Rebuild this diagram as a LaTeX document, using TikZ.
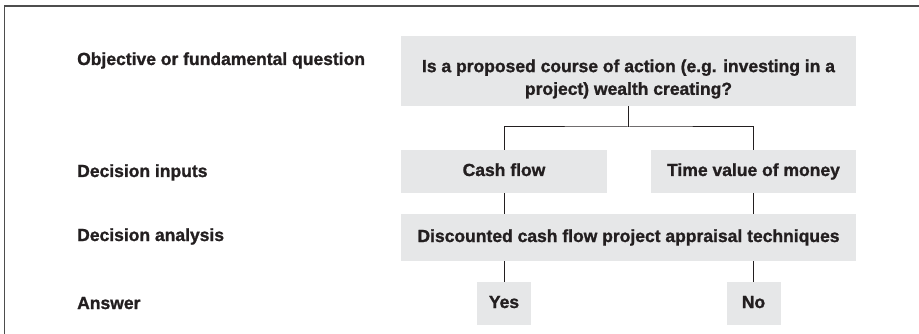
\documentclass[tikz,border=0pt]{standalone}
\usepackage{fontspec}
\setmainfont{Liberation Sans}[BoldFeatures={FakeBold=1.2}]
\definecolor{boxgray}{HTML}{E6E7E8}
\definecolor{ink}{HTML}{231F20}
\definecolor{rule}{HTML}{4D4D4D}
\begin{document}
\begin{tikzpicture}[x=1pt,y=-1pt]
            \tikzstyle{box}=[fill=boxgray, inner sep=0pt, text height=12.7pt, text depth=3.7pt, font=\bfseries\fontsize{17.5}{22.7}\selectfont, text=ink]
            \tikzstyle{boxtext}=[inner sep=0pt, align=center, font=\bfseries\fontsize{17.5}{22.7}\selectfont, text=ink]
            \tikzstyle{tag}=[inner sep=0pt, anchor=base west, font=\bfseries\fontsize{17.5}{22.7}\selectfont, text=ink]
            \tikzstyle{link}=[ink, line width=1pt]
            \tikzstyle{frame}=[rule, line width=1.6pt]

            \useasboundingbox (0,0) rectangle (919,334);
            \draw[frame] (4.5,334) -- (4.5,6) -- (919,6);

            \node[tag] (objective) at (77,65) {Objective or fundamental question};
            \node[tag] (inputs) at (77,177) {Decision inputs};
            \node[tag] (analysis) at (77,241) {Decision analysis};
            \node[tag] (answer) at (77,309) {Answer};

            \node[box, minimum width=455pt, minimum height=70pt] (q) at (628.5,71) {};
            \node[boxtext] (qtext) at (628.5,79) {Is a proposed course of action (e.g. investing in a\\project) wealth creating?};
            \node[box, minimum width=206pt, minimum height=43pt] (cash) at (504,171.5) {Cash flow};
            \node[box, minimum width=205pt, minimum height=43pt] (time) at (753.5,171.5) {Time value of money};
            \node[box, minimum width=455pt, minimum height=47pt] (disc) at (628.5,237.5) {Discounted cash flow project appraisal techniques};
            \node[box, minimum width=54pt, minimum height=43pt] (yes) at (504,303.5) {Yes};
            \node[box, minimum width=54pt, minimum height=43pt] (no) at (753.5,303.5) {No};

            \coordinate (fork) at (628.5,127);
            \draw[link] (q.south) -- (fork);
            \draw[link] (cash.north) |- (fork) -| (time.north);
            \draw[link] (cash.south) -- (cash.south |- disc.north);
            \draw[link] (time.south) -- (time.south |- disc.north);
            \draw[link] (yes.north |- disc.south) -- (yes.north);
            \draw[link] (no.north |- disc.south) -- (no.north);
        \end{tikzpicture}
\end{document}
